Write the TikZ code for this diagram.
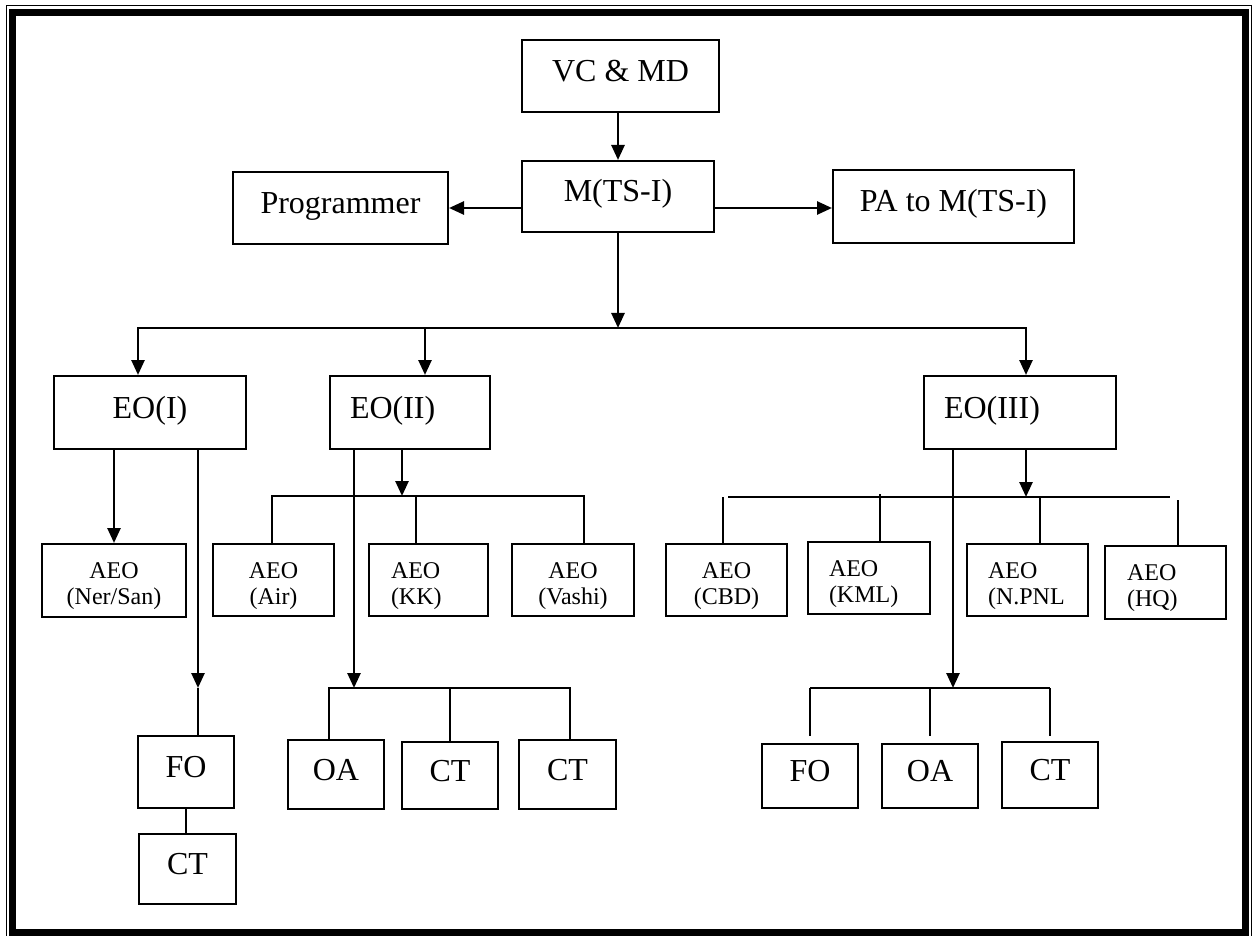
\documentclass[tikz,border=0pt]{standalone}
\usepackage{fontspec}
\setmainfont{Liberation Serif}
\usetikzlibrary{arrows.meta}
\newcommand{\bigfnt}{\fontsize{32}{38}\selectfont}
\newcommand{\smallfnt}{\fontsize{24}{26}\selectfont}
\tikzset{
	box/.style 2 args={draw,line width=2pt,minimum width=#1,minimum height=#2,inner sep=0pt,font=\bigfnt,text height=22pt,text depth=11pt},
	sbox/.style 2 args={draw,line width=2pt,text width=#1,minimum height=#2,inner sep=0pt,align=center,font=\smallfnt,execute at begin node={\rule{0pt}{28pt}}},
	arr/.style={-{Triangle[length=15pt,width=13pt]},line width=2.6pt},
	ln/.style={line width=2pt}
}
\begin{document}
\begin{tikzpicture}[x=1pt,y=-1pt]
	\useasboundingbox (0,0) rectangle (1254,936);
	% frame
	\draw[line width=1.5pt] (6.5,936) -- (6.5,5.5) -- (1251.5,5.5) -- (1251.5,936);
	\draw[line width=7pt] (12.5,12.5) rectangle (1245.5,932.5);

	% top
	\node[box={197pt}{72pt}] (vcmd) at (620.5,76) {VC \& MD};
	\node[box={192pt}{71pt}] (mts) at (618,196.5) {M(TS-I)};
	\node[box={215pt}{72pt}] (prog) at (340.5,208) {Programmer};
	\node[box={241pt}{73pt}] (pa) at (953.5,206.5) {PA to M(TS-I)};

	\draw[arr] (vcmd.south -| mts) -- (mts.north);
	\draw[arr] (mts.west |- prog) -- (prog.east);
	\draw[arr] (mts.east |- prog) -- (pa.west |- prog);

	% EO row
	\node[box={192pt}{73pt}] (eo1) at (150,412.5) {EO(I)};
	\node[box={160pt}{73pt},align=left,inner xsep=20pt,text width=120pt] (eo2) at (410,412.5) {EO(II)};
	\node[box={192pt}{73pt},align=left,inner xsep=20pt,text width=152pt] (eo3) at (1020,412.5) {EO(III)};

	\coordinate (bus) at (618,328);
	\coordinate (j1) at (138,328);
	\coordinate (j2) at (425,328);
	\coordinate (j3) at (1026,328);
	\draw[arr] (mts.south) -- (bus);
	\draw[arr] (bus) -| (j1 |- eo1.north);
	\draw[arr] (bus) -| (j3 |- eo3.north);
	\draw[arr] (j2) -- (j2 |- eo2.north);

	% EO(I)
	\node[sbox={144pt}{73pt}] (aeo1) at (114,580.5) {AEO\\(Ner/San)};
	\node[box={96pt}{72pt}] (fo1) at (186,772) {FO};
	\node[box={97pt}{70pt}] (ct1) at (187.5,869) {CT};

	\coordinate (f1) at (198,688);
	\draw[arr] (eo1.south -| aeo1.north) -- (aeo1.north);
	\draw[arr] (eo1.south -| f1) -- (f1);
	\draw[ln] (f1) -- (f1 |- fo1.north);
	\draw[ln] (fo1.south) -- (fo1.south |- ct1.north);

	% EO(II)
	\node[sbox={121pt}{72pt}] (aeo2) at (273.5,580) {AEO\\(Air)};
	\node[sbox={75pt}{72pt},align=left,inner xsep=22pt] (aeo3) at (428.5,580) {AEO\\(KK)};
	\node[sbox={122pt}{72pt}] (aeo4) at (573,580) {AEO\\(Vashi)};
	\node[box={96pt}{69pt}] (oa1) at (336,774.5) {OA};
	\node[box={96pt}{67pt}] (ct2) at (450,775.5) {CT};
	\node[box={97pt}{69pt}] (ct3) at (567.5,774.5) {CT};

	\coordinate (h2) at (402,496);
	\coordinate (h2a) at (272,496);
	\coordinate (h2b) at (416,496);
	\coordinate (h2c) at (584,496);
	\draw[arr] (eo2.south -| h2) -- (h2);
	\draw[ln] (h2a |- aeo2.north) -- (h2a) -- (h2c) -- (h2c |- aeo4.north);
	\draw[ln] (h2b) -- (h2b |- aeo3.north);

	\coordinate (q2) at (354,688);
	\coordinate (q2a) at (329,688);
	\coordinate (q2c) at (570,688);
	\draw[arr] (eo2.south -| q2) -- (q2);
	\draw[ln] (q2a |- oa1.north) -- (q2a) -- (q2c) -- (q2c |- ct3.north);
	\draw[ln] (ct2.north) -- (ct2.north |- q2);

	% EO(III)
	\node[sbox={121pt}{72pt}] (aeo5) at (726.5,580) {AEO\\(CBD)};
	\node[sbox={80pt}{72pt},align=left,inner xsep=21pt] (aeo6) at (869,578) {AEO\\(KML)};
	\node[sbox={79pt}{72pt},align=left,inner xsep=21pt] (aeo7) at (1027.5,580) {AEO\\(N.PNL};
	\node[sbox={77pt}{73pt},align=left,inner xsep=22pt] (aeo8) at (1165.5,582.5) {AEO\\(HQ)};
	\node[box={96pt}{64pt}] (fo2) at (810,776) {FO};
	\node[box={96pt}{64pt}] (oa2) at (930,776) {OA};
	\node[box={96pt}{66pt}] (ct4) at (1050,775) {CT};

	\coordinate (h3) at (1026,497);
	\coordinate (h3a) at (728,497);
	\coordinate (h3b) at (1170,497);
	\coordinate (d1) at (723,497);
	\coordinate (d2) at (880,494);
	\coordinate (d3) at (1040,497);
	\coordinate (d4) at (1178,500);
	\draw[arr] (eo3.south -| h3) -- (h3);
	\draw[ln] (h3a) -- (h3b);
	\draw[ln] (d1) -- (d1 |- aeo5.north);
	\draw[ln] (d2) -- (d2 |- aeo6.north);
	\draw[ln] (d3) -- (d3 |- aeo7.north);
	\draw[ln] (d4) -- (d4 |- aeo8.north);

	\coordinate (q3) at (953,688);
	\draw[arr] (eo3.south -| q3) -- (q3);
	\draw[ln] (fo2.north |- q3) -- (ct4.north |- q3);
	\draw[ln,shorten >=7pt] (fo2.north |- q3) -- (fo2.north);
	\draw[ln,shorten >=7pt] (oa2.north |- q3) -- (oa2.north);
	\draw[ln,shorten >=5pt] (ct4.north |- q3) -- (ct4.north);
\end{tikzpicture}
\end{document}
